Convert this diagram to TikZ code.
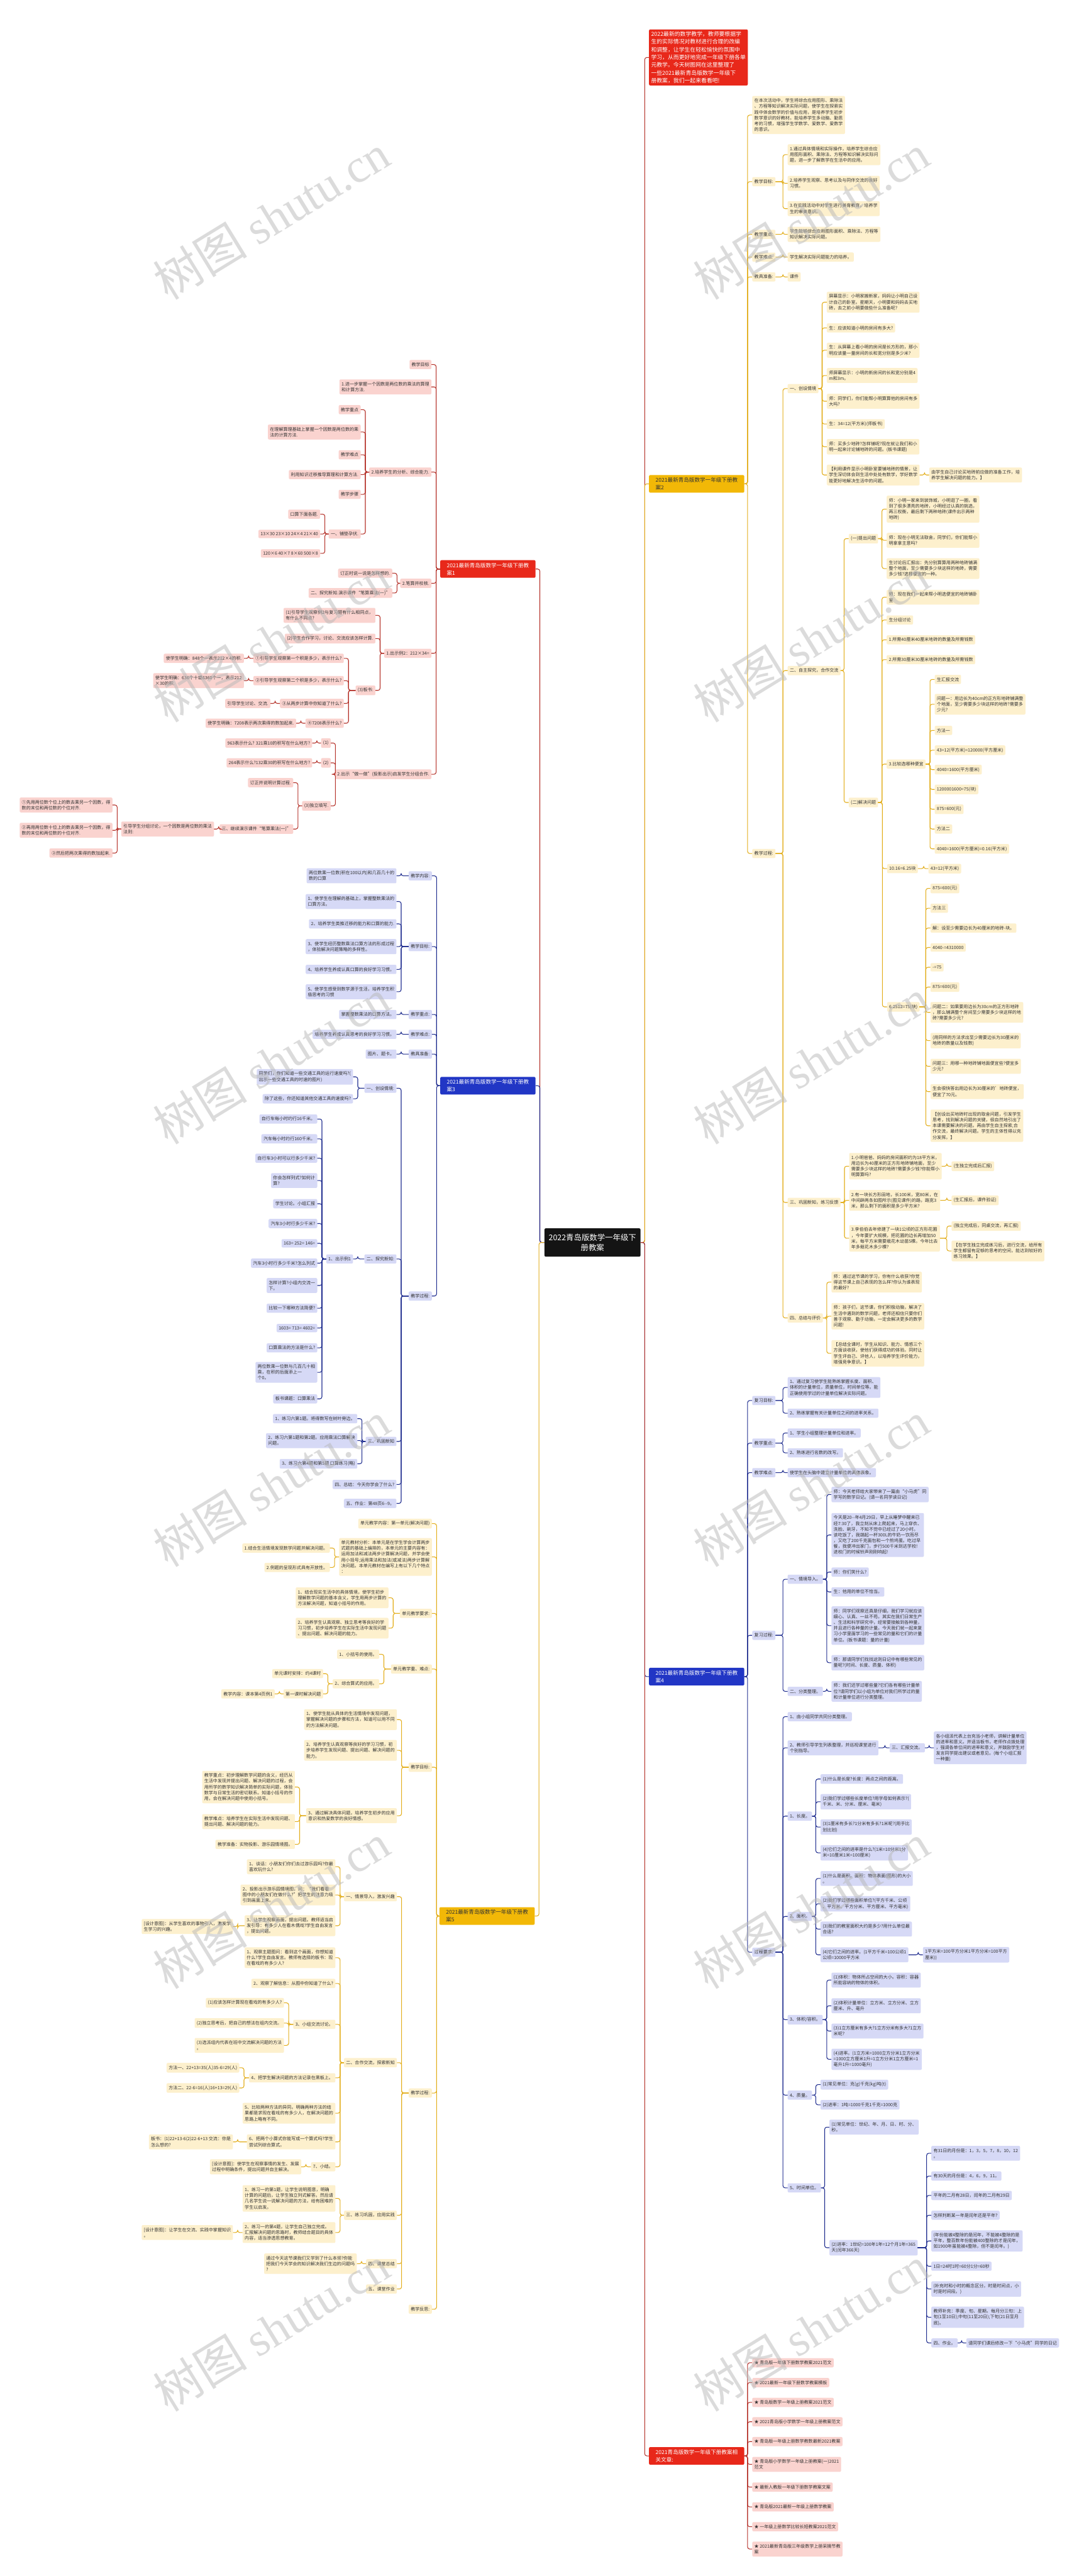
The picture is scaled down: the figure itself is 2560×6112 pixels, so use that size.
\documentclass[tikz,border=0pt]{standalone}
\usepackage{fontspec}
\setmainfont{Noto Sans CJK SC}
\newfontfamily\wmlat{Liberation Serif}
\newfontfamily\wmcjk{Noto Sans CJK SC}
\usetikzlibrary{calc}
\definecolor{ysub}{HTML}{FDF0CD}
\definecolor{yline}{HTML}{E3AE1B}
\definecolor{ylabc}{HTML}{F2B807}
\definecolor{rsub}{HTML}{FAD3CF}
\definecolor{rline}{HTML}{B5322A}
\definecolor{rlabc}{HTML}{E8281A}
\definecolor{bsub}{HTML}{D6D9F6}
\definecolor{bline}{HTML}{1F2D8F}
\definecolor{blabc}{HTML}{2136C5}
\definecolor{cenc}{HTML}{141414}
\definecolor{txt}{HTML}{333333}
\definecolor{wmc}{HTML}{B8B8B8}
\tikzset{
  sub/.style={rounded corners=3pt, inner xsep=5pt, inner ysep=6pt, align=left, text=txt, font=\fontsize{10.5}{13.7}\selectfont},
  ys/.style={sub, fill=ysub},
  rs/.style={sub, fill=rsub},
  bs/.style={sub, fill=bsub},
  lab/.style={rounded corners=3pt, inner xsep=5pt, inner ysep=6pt, align=left, font=\fontsize{12.8}{17.9}\selectfont, minimum width=226pt},
  ylab/.style={lab, fill=ylabc, text=txt},
  rlab/.style={lab, fill=rlabc, text=white},
  blab/.style={lab, fill=blabc, text=white},
  cen/.style={rounded corners=3pt, fill=cenc, text=white, align=center, font=\fontsize{18.5}{25}\selectfont, minimum width=228pt, minimum height=67pt},
  intro/.style={rounded corners=3pt, fill=rlabc, text=white, align=left, inner sep=5pt, font=\fontsize{13.2}{18.4}\selectfont},
  yk/.style={draw=yline, line width=1.6pt, rounded corners=5pt},
  rk/.style={draw=rline, line width=1.6pt, rounded corners=5pt},
  bk/.style={draw=bline, line width=1.6pt, rounded corners=5pt},
  wm/.style={rotate=31.5, text=wmc, opacity=0.5, font=\fontsize{112}{120}\selectfont}
}
\newcommand\NR[5]{\node[#1,anchor=west] (#2) at (#3,#4) {#5};}
\newcommand\NL[5]{\node[#1,anchor=east] (#2) at (#3,#4) {#5};}
\newcommand\CRs[3]{\foreach \cc in {#3}{\draw[#1] (#2.east) -| ([xshift=-11pt]\cc.west) -- (\cc.west);}}
\newcommand\CLs[3]{\foreach \cc in {#3}{\draw[#1] (#2.west) -| ([xshift=11pt]\cc.east) -- (\cc.east);}}
\begin{document}
\begin{tikzpicture}[x=1pt,y=-1pt]
\fill[white] (0,0) rectangle (2560,6112);
\useasboundingbox (0,0) rectangle (2560,6112);

% ---------- central and branch labels
\node[cen] (C) at (1406,2948) {2022青岛版数学一年级下\\册教案};
\node[intro,anchor=south west] (I0) at (1540,203) {2022最新的数学教学，教师要根据学\\生的实际情况对教材进行合理的改编\\和调整，让学生在轻松愉快的氛围中\\学习，从而更好地完成一年级下册各单\\元教学。今天树图网在这里整理了\\一些2021最新青岛版数学一年级下\\册教案，我们一起来看看吧!};
\NR{ylab}{L2}{1540}{1148}{2021最新青岛版数学一年级下册教\\案2}
\NR{blab}{L4}{1540}{3978}{2021最新青岛版数学一年级下册教\\案4}
\NR{rlab}{LR}{1540}{5827}{2021青岛版数学一年级下册教案相\\关文章:}
\NL{rlab}{L1}{1271}{1350}{2021最新青岛版数学一年级下册教\\案1}
\NL{blab}{L3}{1271}{2576}{2021最新青岛版数学一年级下册教\\案3}
\NL{ylab}{L5}{1269}{4546}{2021最新青岛版数学一年级下册教\\案5}

\draw[rk] (C.east) -| ([xshift=-10pt]I0.west) -- (I0.west);
\draw[yk] (C.east) -| ([xshift=-10pt]L2.west) -- (L2.west);
\draw[bk] (C.east) -| ([xshift=-10pt]L4.west) -- (L4.west);
\draw[rk] (C.east) -| ([xshift=-10pt]LR.west) -- (LR.west);
\draw[rk] (C.west) -| ([xshift=10pt]L1.east) -- (L1.east);
\draw[bk] (C.west) -| ([xshift=10pt]L3.east) -- (L3.east);
\draw[yk] (C.west) -| ([xshift=10pt]L5.east) -- (L5.east);

% ---------- 教案2 (yellow, right)
\NR{ys}{a1}{1785}{273}{在本次活动中，学生将综合应用图形、乘除法\\、方程等知识解决实际问题，使学生在探索实\\践中体会数学的价值与应用，是培养学生初步\\数学意识的好教材。能培养学生多动脑、勤思\\考的习惯，增强学生学数学、爱数学、爱数学\\的意识。}
\NR{ys}{a2}{1785}{431}{教学目标:}
\NR{ys}{a21}{1869}{367}{1.通过具体情境和实际操作，培养学生综合应\\用图形面积、乘除法、方程等知识解决实际问\\题，进一步了解数学在生活中的应用。}
\NR{ys}{a22}{1869}{435}{2.培养学生观察、思考以及与同伴交流的良好\\习惯。}
\NR{ys}{a23}{1869}{495}{3.在实践活动中对学生进行美育教育，培养学\\生的审美意识。}
\NR{ys}{a3}{1785}{556}{教学重点:}
\NR{ys}{a31}{1869}{556}{学生能够综合应用图形面积、乘除法、方程等\\知识解决实际问题。}
\NR{ys}{a4}{1785}{610}{教学难点:}
\NR{ys}{a41}{1869}{610}{学生解决实际问题能力的培养。}
\NR{ys}{a5}{1785}{657}{教具准备:}
\NR{ys}{a51}{1869}{657}{课件}
\NR{ys}{a6}{1785}{2025}{教学过程:}
\NR{ys}{b1}{1869}{922}{一、创设情境}
\NR{ys}{b11}{1962}{717}{屏幕显示：小明家搬新家，妈妈让小明自己设\\计自己的卧室。星期天，小明要和妈妈去买地\\砖，去之前小明要做些什么准备呢?}
\NR{ys}{b12}{1962}{778}{生：应该知道小明的房间有多大?}
\NR{ys}{b13}{1962}{831}{生：从屏幕上看小明的房间是长方形的，那小\\明应该量一量房间的长和宽分别是多少米?}
\NR{ys}{b14}{1962}{891}{师屏幕显示：小明的新房间的长和宽分别是4\\m和3m。}
\NR{ys}{b15}{1962}{952}{师：同学们，你们能帮小明算算他的房间有多\\大吗?}
\NR{ys}{b16}{1962}{1006}{生：34=12(平方米)(师板书)}
\NR{ys}{b17}{1962}{1060}{师：买多少地砖?怎样铺呢?现在就让我们和小\\明一起来讨论铺地砖的问题。(板书课题)}
\NR{ys}{b18}{1962}{1127}{【利用课件显示小明卧室要铺地砖的情景，让\\学生深切体会到生活中处处有数学，学好数学\\能更好地解决生活中的问题。}
\NR{ys}{b181}{2205}{1127}{由学生自己讨论买地砖前应做的准备工作，培\\养学生解决问题的能力。】}
\NR{ys}{b2}{1869}{1591}{二、自主探究，合作交流}
\NR{ys}{c1}{2014}{1278}{(一)提出问题}
\NR{ys}{c11}{2104}{1208}{师：小明一家来到装饰城，小明逛了一圈，看\\到了很多漂亮的地砖，小明经过认真的挑选，\\再三权衡，最后剩下两种地砖(课件出示两种\\地砖)}
\NR{ys}{c12}{2104}{1282}{师：现在小明无法取舍，同学们，你们能帮小\\明拿拿主意吗?}
\NR{ys}{c13}{2104}{1349}{生讨论后汇报出：先分别算算用两种地砖铺满\\整个地面，至少需要多少块这样的地砖，需要\\多少钱?选择便宜的一种。}
\NR{ys}{c2}{2014}{1904}{(二)解决问题}
\NR{ys}{c21}{2104}{1417}{师：现在我们一起来帮小明选便宜的地砖铺卧\\室}
\NR{ys}{c22}{2104}{1471}{生分组讨论}
\NR{ys}{c23}{2104}{1518}{1.所需40厘米40厘米地砖的数量及所需钱数}
\NR{ys}{c24}{2104}{1565}{2.所需30厘米30厘米地砖的数量及所需钱数}
\NR{ys}{c25}{2104}{1813}{3.比较选哪种便宜}
\NR{ys}{d1}{2218}{1612}{生汇报交流}
\NR{ys}{d2}{2218}{1671}{问题一：用边长为40cm的正方形地砖铺满整\\个地面，至少需要多少块这样的地砖?需要多\\少元?}
\NR{ys}{d3}{2218}{1733}{方法一}
\NR{ys}{d4}{2218}{1780}{43=12(平方米)=120000(平方厘米)}
\NR{ys}{d5}{2218}{1826}{4040=1600(平方厘米)}
\NR{ys}{d6}{2218}{1873}{1200001600=75(块)}
\NR{ys}{d7}{2218}{1920}{875=600(元)}
\NR{ys}{d8}{2218}{1967}{方法二}
\NR{ys}{d9}{2218}{2014}{4040=1600(平方厘米)=0.16(平方米)}
\NR{ys}{c26}{2105}{2061}{10.16=6.25块}
\NR{ys}{c261}{2203}{2061}{43=12(平方米)}
\NR{ys}{c27}{2105}{2389}{6.2512=75(块)}
\NR{ys}{e1}{2208}{2108}{875=600(元)}
\NR{ys}{e2}{2208}{2155}{方法三}
\NR{ys}{e3}{2208}{2202}{解：设至少需要边长为40厘米的地砖-块。}
\NR{ys}{e4}{2208}{2248}{4040-=4310000}
\NR{ys}{e5}{2208}{2295}{-=75}
\NR{ys}{e6}{2208}{2342}{875=600(元)}
\NR{ys}{e7}{2208}{2402}{问题二：如果要用边长为30cm的正方形地砖\\，那么铺满整个房间至少需要多少块这样的地\\砖?需要多少元?}
\NR{ys}{e8}{2208}{2469}{(用同样的方法求出至少需要边长为30厘米的\\地砖的数量以及钱数)}
\NR{ys}{e9}{2208}{2530}{问题三：用哪一种地砖铺地面便宜些?便宜多\\少元?}
\NR{ys}{e10}{2208}{2590}{生会很快答出用边长为30厘米的'地砖便宜，\\便宜了70元。}
\NR{ys}{e11}{2208}{2671}{【创设出买地砖时出现的取舍问题，引发学生\\思考，找到解决问题的关键，很自然地引出了\\本课需要解决的问题。再由学生自主探索,合\\作交流，最终解决问题。学生的主体性得以充\\分发挥。】}
\NR{ys}{b3}{1869}{2853}{三、巩固新知，练习反馈}
\NR{ys}{f1}{2015}{2767}{1.小明爸爸、妈妈的房间面积约为18平方米，\\用边长为40厘米的正方形地砖铺地面，至少\\需要多少块这样的地砖?需要多少钱?你能帮小\\明算算吗?}
\NR{ys}{f11}{2258}{2767}{(生独立完成后汇报)}
\NR{ys}{f2}{2015}{2848}{2.有一块长方形田地，长100米，宽80米，在\\中间辟两条如图所示(图见课件)的路，路宽3\\米，那么剩下的面积是多少平方米?}
\NR{ys}{f21}{2258}{2848}{(生汇报后，课件验证)}
\NR{ys}{f3}{2015}{2938}{3.李伯伯去年修建了一块1公顷的正方形花圃\\，今年要扩大规模，把花圃的边长再增加50\\米，每平方米需要栽花木幼苗5棵。今年比去\\年多栽花木多少棵?}
\NR{ys}{f31}{2258}{2909}{(独立完成后，同桌交流，再汇报)}
\NR{ys}{f32}{2258}{2968}{【在学生独立完成练习后，进行交流，给所有\\学生都留有足够的思考的空间，能达到较好的\\练习效果。】}
\NR{ys}{b4}{1869}{3127}{四、总结与评价}
\NR{ys}{g1}{1973}{3042}{师：通过这节课的学习，你有什么收获?你觉\\得这节课上自己表现的怎么样?你认为谁表现\\的最好?}
\NR{ys}{g2}{1973}{3123}{师：孩子们，这节课，你们积极动脑，解决了\\生活中遇到的数学问题，老师还相信只要你们\\善于观察、勤于动脑，一定会解决更多的数学\\问题!}
\NR{ys}{g3}{1973}{3211}{【总结全课时，学生从知识、能力、情感三个\\方面谈收获，使他们获得成功的体验。同时让\\学生评自己、评他人，以培养学生评价能力，\\增强竞争意识。】}

\CRs{yk}{L2}{a1,a2,a3,a4,a5,a6}
\CRs{yk}{a2}{a21,a22,a23}
\CRs{yk}{a3}{a31}
\CRs{yk}{a4}{a41}
\CRs{yk}{a5}{a51}
\CRs{yk}{a6}{b1,b2,b3,b4}
\CRs{yk}{b1}{b11,b12,b13,b14,b15,b16,b17,b18}
\CRs{yk}{b18}{b181}
\CRs{yk}{b2}{c1,c2}
\CRs{yk}{c1}{c11,c12,c13}
\CRs{yk}{c2}{c21,c22,c23,c24,c25,c26,c27}
\CRs{yk}{c25}{d1,d2,d3,d4,d5,d6,d7,d8,d9}
\CRs{yk}{c26}{c261}
\CRs{yk}{c27}{e1,e2,e3,e4,e5,e6,e7,e8,e9,e10,e11}
\CRs{yk}{b3}{f1,f2,f3}
\CRs{yk}{f1}{f11}
\CRs{yk}{f2}{f21}
\CRs{yk}{f3}{f31,f32}
\CRs{yk}{b4}{g1,g2,g3}

% ---------- 教案4 (blue, right)
\NR{bs}{h1}{1785}{3323}{复习目标:}
\NR{bs}{h11}{1869}{3292}{1、通过复习使学生能熟练掌握长度、面积、\\体积的计量单位，质量单位，时间单位等。能\\正确使用学过的计量单位解决实际问题。}
\NR{bs}{h12}{1869}{3353}{2、熟练掌握有关计量单位之间的进率关系。}
\NR{bs}{h2}{1785}{3424}{教学重点:}
\NR{bs}{h21}{1869}{3400}{1、学生小组整理计量单位和进率。}
\NR{bs}{h22}{1869}{3447}{2、熟练进行名数的改写。}
\NR{bs}{h3}{1785}{3494}{教学难点:}
\NR{bs}{h31}{1869}{3494}{使学生在头脑中建立计量单位的具体表象。}
\NR{bs}{h4}{1785}{3880}{复习过程:}
\NR{bs}{i1}{1869}{3747}{一、情境导入。}
\NR{bs}{i11}{1973}{3546}{师：今天老师给大家带来了一篇由“小马虎”同\\学写的数学日记。(请一名同学读日记)}
\NR{bs}{i12}{1973}{3642}{今天是20-{}-年4月29日，早上从睡梦中醒来已\\经7:30了，我立刻从床上爬起来，马上穿衣、\\洗脸、刷牙，不知不觉中已经过了20小时。\\该吃饭了，我端起一杯300L的牛奶一饮而尽\\，又吃了200千克面包和一个煎鸡蛋。吃过早\\餐，我便冲出家门，步行500千米到达学校!\\进校门的时候铃声刚刚响起!}
\NR{bs}{i13}{1973}{3730}{师：你们笑什么?}
\NR{bs}{i14}{1973}{3777}{生：他用的单位不恰当。}
\NR{bs}{i15}{1973}{3857}{师：同学们观察还真是仔细，我们学习就应该\\细心、认真、一丝不苟。其实在我们日常生产\\、生活和科学研究中，经常要接触到各种量，\\并且进行各种量的计量。今天我们就一起来复\\习小学里面学习的一些常见的量和它们的计量\\单位。(板书课题：量的计量)}
\NR{bs}{i16}{1973}{3945}{师：那请同学们找找这则日记中有哪些常见的\\量呢?(时间、长度、质量、体积)}
\NR{bs}{i2}{1869}{4013}{二、分类整理。}
\NR{bs}{i21}{1973}{4013}{师：我们还学过哪些量?它们各有哪些计量单\\位?请同学们以小组为单位对我们所学过的量\\和计量单位进行分类整理。}
\NR{bs}{h5}{1785}{4632}{过程要求:}
\NR{bs}{j1}{1869}{4073}{1、由小组同学共同分类整理。}
\NR{bs}{j2}{1869}{4147}{2、教师引导学生列表整理，并巡视课堂进行\\个别指导。}
\NR{bs}{j21}{2111}{4147}{三、汇报交流。}
\NR{bs}{j211}{2216}{4147}{各小组派代表上台充当小老师，讲解计量单位\\的进率和意义。并适当板书，老师作点拨处理\\，强调各单位间的进率和意义，并鼓励学生对\\发言同学提出建议或者意见。(每个小组汇报\\一种量)}
\NR{bs}{j3}{1869}{4309}{1、长度。}
\NR{bs}{j31}{1947}{4221}{(1)什么是长度?长度：两点之间的距离。}
\NR{bs}{j32}{1947}{4275}{(2)我们学过哪些长度单位?用字母如何表示?(\\千米、米、分米、厘米、毫米)}
\NR{bs}{j33}{1947}{4335}{(3)1厘米有多长?1分米有多长?1米呢?(用手比\\划比划)}
\NR{bs}{j34}{1947}{4396}{(4)它们之间的进率是什么?(1米=10分米1分\\米=10厘米1米=100厘米)}
\NR{bs}{j4}{1869}{4547}{2、面积。}
\NR{bs}{j41}{1947}{4457}{(1)什么是面积。面积：物体表面(图形)的大小\\。}
\NR{bs}{j42}{1947}{4517}{(2)我们学过哪些面积单位?(平方千米、公顷\\、平方米、平方分米、平方厘米、平方毫米)}
\NR{bs}{j43}{1947}{4577}{(3)我们的教室面积大约是多少?用什么单位最\\合适?}
\NR{bs}{j44}{1947}{4638}{(4)它们之间的进率。(1平方千米=100公顷1\\公顷=10000平方米}
\NR{bs}{j441}{2190}{4638}{1平方米=100平方分米1平方分米=100平方\\厘米))}
\NR{bs}{j5}{1869}{4792}{3、体积/容积。}
\NR{bs}{j51}{1973}{4698}{(1)体积：物体所占空间的大小。容积：容器\\所能容纳的物体的体积。}
\NR{bs}{j52}{1973}{4759}{(2)体积计量单位：立方米、立方分米、立方\\厘米、升、毫升}
\NR{bs}{j53}{1973}{4819}{(3)1立方厘米有多大?1立方分米有多大?1立方\\米呢?}
\NR{bs}{j54}{1973}{4886}{(4)进率。(1立方米=1000立方分米1立方分米\\=1000立方厘米1升=1立方分米1立方厘米=1\\毫升1升=1000毫升)}
\NR{bs}{j6}{1869}{4971}{4、质量。}
\NR{bs}{j61}{1947}{4946}{(1)常见单位：克(g)千克(kg)吨(t)}
\NR{bs}{j62}{1947}{4994}{(2)进率：1吨=1000千克1千克=1000克}
\NR{bs}{j7}{1869}{5191}{5、时间单位。}
\NR{bs}{j71}{1968}{5047}{(1)常见单位：世纪、年、月、日、时、分、\\秒。}
\NR{bs}{j72}{1968}{5333}{(2)进率：1世纪=100年1年=12个月1年=365\\天(闰年366天)}
\NR{bs}{k1}{2210}{5109}{有31日的月份是：1，3，5，7，8，10，12\\。}
\NR{bs}{k2}{2210}{5163}{有30天的月份是：4，6，9，11。}
\NR{bs}{k3}{2210}{5209}{平年的二月有28日，闰年的二月有29日}
\NR{bs}{k4}{2210}{5256}{怎样判断某一年是闰年还是平年?}
\NR{bs}{k5}{2210}{5317}{(年份能被4整除的是闰年，不能被4整除的是\\平年，整百数年份能被400整除的才是闰年，\\如1900年虽能被4整除，但不是闰年。)}
\NR{bs}{k6}{2210}{5377}{1日=24时1时=60分1分=60秒}
\NR{bs}{k7}{2210}{5431}{(补充时和小时的概念区分。时是时间点，小\\时是时间段。)}
\NR{bs}{k8}{2210}{5498}{教师补充：季度、旬、星期。每月分三旬：上\\旬(1至10日);中旬(11至20日);下旬(21日至月\\底)。}
\NR{bs}{k9}{2210}{5559}{四、作业。}
\NR{bs}{k91}{2293}{5559}{请同学们课后修改一下“小马虎”同学的日记}

\CRs{bk}{L4}{h1,h2,h3,h4,h5}
\CRs{bk}{h1}{h11,h12}
\CRs{bk}{h2}{h21,h22}
\CRs{bk}{h3}{h31}
\CRs{bk}{h4}{i1,i2}
\CRs{bk}{i1}{i11,i12,i13,i14,i15,i16}
\CRs{bk}{i2}{i21}
\CRs{bk}{h5}{j1,j2,j3,j4,j5,j6,j7}
\CRs{bk}{j2}{j21}
\CRs{bk}{j21}{j211}
\CRs{bk}{j3}{j31,j32,j33,j34}
\CRs{bk}{j4}{j41,j42,j43,j44}
\CRs{bk}{j44}{j441}
\CRs{bk}{j5}{j51,j52,j53,j54}
\CRs{bk}{j6}{j61,j62}
\CRs{bk}{j7}{j71,j72}
\CRs{bk}{j72}{k1,k2,k3,k4,k5,k6,k7,k8,k9}
\CRs{bk}{k9}{k91}

% ---------- related articles (red, right)
\NR{rs}{z1}{1785}{5606}{★ 青岛版一年级下册数学教案2021范文}
\NR{rs}{z2}{1785}{5653}{★ 2021最新一年级下册数学教案模板}
\NR{rs}{z3}{1785}{5700}{★ 青岛版数学一年级上册教案2021范文}
\NR{rs}{z4}{1785}{5746}{★ 2021青岛版小学数学一年级上册教案范文}
\NR{rs}{z5}{1785}{5793}{★ 青岛版一年级上册数学教数最新2021教案}
\NR{rs}{z6}{1785}{5847}{★ 青岛版小学数学一年级上册教案(一)2021\\范文}
\NR{rs}{z7}{1785}{5901}{★ 最新人教版一年级下册数学教案文案}
\NR{rs}{z8}{1785}{5948}{★ 青岛版2021最新一年级上册数学教案}
\NR{rs}{z9}{1785}{5995}{★ 一年级上册数学比较长短教案2021范文}
\NR{rs}{z10}{1785}{6048}{★ 2021最新青岛版三年级数学上册采摘节教\\案}
\CRs{rk}{LR}{z1,z2,z3,z4,z5,z6,z7,z8,z9,z10}

% ---------- 教案1 (red, left)
\NL{rs}{m1}{1024}{865}{教学目标}
\NL{rs}{m2}{1024}{918}{1.进一步掌握一个因数是两位数的乘法的算理\\和计算方法.}
\NL{rs}{m3}{1024}{1120}{2.培养学生的分析、综合能力.}
\NL{rs}{m31}{856}{972}{教学重点}
\NL{rs}{m32}{856}{1025}{在理解算理基础上掌握一个因数是两位数的乘\\法的计算方法.}
\NL{rs}{m33}{856}{1079}{教学难点}
\NL{rs}{m34}{856}{1126}{利用知识迁移推导算理和计算方法.}
\NL{rs}{m35}{856}{1173}{教学步骤}
\NL{rs}{m36}{856}{1267}{一、铺垫孕伏.}
\NL{rs}{m361}{760}{1220}{口算下面各题.}
\NL{rs}{m362}{760}{1267}{13×30 23×10 24×4 21×40}
\NL{rs}{m363}{760}{1313}{120×6 40×7 8×60 500×8}
\NL{rs}{m4}{1024}{1384}{2.笔算并校核.}
\NL{rs}{m41}{931}{1360}{订正时说一说是怎样想的.}
\NL{rs}{m42}{931}{1407}{二、探究新知.演示课件“笔算乘法(一)”}
\NL{rs}{m5}{1024}{1550}{1.出示例2：212×34=}
\NL{rs}{m51}{891}{1460}{(1)引导学生观察例2与复习题有什么相同点，\\有什么不同点?}
\NL{rs}{m52}{891}{1515}{(2)学生合作学习，讨论、交流应该怎样计算.}
\NL{rs}{m53}{891}{1638}{(3)板书:}
\NL{rs}{n1}{816}{1562}{①引导学生观察第一个积是多少，表示什么?}
\NL{rs}{n11}{579}{1562}{使学生明确：848个一表示212×4的积.}
\NL{rs}{n2}{816}{1615}{②引导学生观察第二个积是多少，表示什么?}
\NL{rs}{n21}{579}{1615}{使学生明确：636个十或6360个一，表示212\\×30的积.}
\NL{rs}{n3}{816}{1669}{③从两步计算中你知道了什么?}
\NL{rs}{n31}{642}{1669}{引导学生讨论、交流.}
\NL{rs}{n4}{816}{1716}{④7208表示什么?}
\NL{rs}{n41}{703}{1716}{使学生明确：7208表示两次乘得的数加起来.}
\NL{rs}{m6}{1024}{1837}{2.出示“做一做”(投影出示)启发学生分组合作.}
\NL{rs}{o1}{785}{1763}{(1)}
\NL{rs}{o11}{741}{1763}{963表示什么? 321乘10的积写在什么地方?}
\NL{rs}{o2}{785}{1810}{(2)}
\NL{rs}{o21}{741}{1810}{264表示什么?132乘30的积写在什么地方?}
\NL{rs}{o3}{785}{1912}{(3)独立填写.}
\NL{rs}{o31}{696}{1857}{订正并说明计算过程.}
\NL{rs}{o32}{696}{1967}{三、继续演示课件“笔算乘法(一)”}
\NL{rs}{o321}{508}{1967}{引导学生分组讨论，一个因数是两位数的乘法\\法则:}
\NL{rs}{p1}{267}{1910}{①先用两位数个位上的数去乘另一个因数，得\\数的末位和两位数的个位对齐.}
\NL{rs}{p2}{267}{1970}{②再用两位数十位上的数去乘另一个因数，得\\数的末位和两位数的十位对齐.}
\NL{rs}{p3}{267}{2024}{③然后把两次乘得的数加起来.}

\CLs{rk}{L1}{m1,m2,m3,m4,m5,m6}
\CLs{rk}{m3}{m31,m32,m33,m34,m35,m36}
\CLs{rk}{m36}{m361,m362,m363}
\CLs{rk}{m4}{m41,m42}
\CLs{rk}{m5}{m51,m52,m53}
\CLs{rk}{m53}{n1,n2,n3,n4}
\CLs{rk}{n1}{n11}
\CLs{rk}{n2}{n21}
\CLs{rk}{n3}{n31}
\CLs{rk}{n4}{n41}
\CLs{rk}{m6}{o1,o2,o3}
\CLs{rk}{o1}{o11}
\CLs{rk}{o2}{o21}
\CLs{rk}{o3}{o31,o32}
\CLs{rk}{o32}{o321}
\CLs{rk}{o321}{p1,p2,p3}

% ---------- 教案3 (blue, left)
\NL{bs}{q1}{1025}{2078}{教学内容:}
\NL{bs}{q11}{941}{2078}{两位数乘一位数(积在100以内)和几百几十的\\数的口算}
\NL{bs}{q2}{1025}{2246}{教学目标:}
\NL{bs}{q21}{941}{2139}{1、使学生在理解的基础上，掌握整数乘法的\\口算方法。}
\NL{bs}{q22}{941}{2192}{2、培养学生类推迁移的能力和口算的能力.}
\NL{bs}{q23}{941}{2246}{3、使学生经历整数乘法口算方法的形成过程\\，体验解决问题策略的多样性。}
\NL{bs}{q24}{941}{2300}{4、培养学生养成认真口算的良好学习习惯。}
\NL{bs}{q25}{941}{2353}{5、使学生感受到数学源于生活，培养学生积\\极思考的习惯}
\NL{bs}{q3}{1025}{2407}{教学重点:}
\NL{bs}{q31}{941}{2407}{掌握整数乘法的口算方法。}
\NL{bs}{q4}{1025}{2454}{教学难点:}
\NL{bs}{q41}{941}{2454}{培养学生养成认真思考的良好学习习惯。}
\NL{bs}{q5}{1025}{2501}{教具准备:}
\NL{bs}{q51}{941}{2501}{图片、题卡。}
\NL{bs}{q6}{1025}{3075}{教学过程:}
\NL{bs}{r1}{941}{2582}{一、创设情境:}
\NL{bs}{r11}{838}{2555}{同学们，你们知道一些交通工具的运行速度吗?(\\出示一些交通工具的时速的图片)}
\NL{bs}{r12}{838}{2607}{除了这些，你还知道其他交通工具的速度吗?}
\NL{bs}{r2}{941}{2987}{二、探究新知:}
\NL{bs}{r21}{838}{2987}{1、出示例1}
\NL{bs}{s1}{753}{2655}{自行车每小时约行16千米。}
\NL{bs}{s2}{753}{2702}{汽车每小时约行160千米。}
\NL{bs}{s3}{753}{2748}{自行车3小时可以行多少千米?}
\NL{bs}{s4}{753}{2801}{你会怎样列式?如何计\\算?}
\NL{bs}{s5}{753}{2856}{学生讨论。小组汇报}
\NL{bs}{s6}{753}{2903}{汽车3小时行多少千米?}
\NL{bs}{s7}{753}{2950}{163= 252= 146=}
\NL{bs}{s8}{753}{2997}{汽车3小时行多少千米?怎么列式}
\NL{bs}{s9}{753}{3050}{怎样计算?小组内交流一\\下。}
\NL{bs}{s10}{753}{3104}{比较一下哪种方法简便?}
\NL{bs}{s11}{753}{3151}{1603= 713= 4602=}
\NL{bs}{s12}{753}{3198}{口算乘法的方法是什么?}
\NL{bs}{s13}{753}{3256}{两位数乘一位数与几百几十相\\乘，在积的后面添上一\\个0。}
\NL{bs}{s14}{753}{3319}{板书课题：口算乘法}
\NL{bs}{r3}{941}{3420}{三、巩固新知}
\NL{bs}{r31}{848}{3366}{1、练习六第1题。将得数写在树叶旁边。}
\NL{bs}{r32}{848}{3418}{2、练习六第1题和第2题。应用乘法口算解决\\问题。}
\NL{bs}{r33}{848}{3473}{3、练习六第4题和第5题 口算练习(略)}
\NL{bs}{r4}{941}{3522}{四、总结：今天你学会了什么?}
\NL{bs}{r5}{941}{3567}{五、作业：第48页6-{}-9。}

\CLs{bk}{L3}{q1,q2,q3,q4,q5,q6}
\CLs{bk}{q1}{q11}
\CLs{bk}{q2}{q21,q22,q23,q24,q25}
\CLs{bk}{q3}{q31}
\CLs{bk}{q4}{q41}
\CLs{bk}{q5}{q51}
\CLs{bk}{q6}{r1,r2,r3,r4,r5}
\CLs{bk}{r1}{r11,r12}
\CLs{bk}{r2}{r21}
\CLs{bk}{r21}{s1,s2,s3,s4,s5,s6,s7,s8,s9,s10,s11,s12,s13,s14}
\CLs{bk}{r3}{r31,r32,r33}

% ---------- 教案5 (yellow, left)
\NL{ys}{t1}{1025}{3615}{单元教学内容：第一单元(解决问题)}
\NL{ys}{t2}{1025}{3694}{单元教材分析：本单元是在学生学会计算两步\\式题的基础上编排的，本单元的主要内容有：\\运用加法和减法两步计算解决问题，并学会使\\用小括号;运用乘法和加法(或减法)两步计算解\\决问题。本单元教材在编写上有以下几个特点\\：}
\NL{ys}{t21}{783}{3673}{1.结合生活情境发现数学问题并解决问题。}
\NL{ys}{t22}{783}{3719}{2.例题的呈现形式具有开放性。}
\NL{ys}{t3}{1025}{3828}{单元教学要求:}
\NL{ys}{t31}{922}{3791}{1、结合现实生活中的具体情境，使学生初步\\理解数学问题的基本含义，学生用两步计算的\\方法解决问题，知道小括号的作用。}
\NL{ys}{t32}{922}{3863}{2、培养学生认真观察、独立思考等良好的学\\习习惯，初步培养学生在实际生活中发现问题\\、提出问题、解决问题的能力。}
\NL{ys}{t4}{1025}{3960}{单元教学重、难点:}
\NL{ys}{t41}{900}{3925}{1、小括号的使用。}
\NL{ys}{t42}{900}{3995}{2、综合算式的应用。}
\NL{ys}{t421}{767}{3971}{单元课时安排：约4课时}
\NL{ys}{t422}{767}{4019}{第一课时解决问题}
\NL{ys}{t4221}{652}{4019}{教学内容：课本第4页例1}
\NL{ys}{t5}{1025}{4193}{教学目标:}
\NL{ys}{t51}{942}{4080}{1、使学生能从具体的生活情境中发现问题，\\掌握解决问题的步骤和方法，知道可以用不同\\的方法解决问题。}
\NL{ys}{t52}{942}{4153}{2、培养学生认真观察等良好的学习习惯，初\\步培养学生发现问题、提出问题、解决问题的\\能力。}
\NL{ys}{t53}{942}{4308}{3、通过解决具体问题，培养学生初步的应用\\意识和热爱数学的良好情感。}
\NL{ys}{t531}{700}{4240}{教学重点：初步理解数学问题的含义，经历从\\生活中发现并提出问题、解决问题的过程，会\\用所学的数学知识解决简单的实际问题，体验\\数学与日常生活的密切联系。知道小括号的作\\用，会在解决问题中使用小括号。}
\NL{ys}{t532}{700}{4322}{教学难点：培养学生在实际生活中发现问题、\\提出问题、解决问题的能力。}
\NL{ys}{t533}{700}{4376}{教学准备：实物投影、游乐园情境图。}
\NL{ys}{t6}{1025}{4966}{教学过程:}
\NL{ys}{u1}{942}{4500}{一、情景导入，激发兴趣}
\NL{ys}{u11}{796}{4429}{1、谈话：小朋友们你们去过游乐园吗?你最\\喜欢玩什么?}
\NL{ys}{u12}{796}{4496}{2、投影出示游乐园情境图，问：“我们看看\\图中的小朋友们在做什么?”把学生的注意力吸\\引到画面上来。}
\NL{ys}{u13}{796}{4569}{3、让学生观察画面，提出问题。教师适当启\\发引导：有多少人在看木偶戏?学生自由发言\\，提出问题。}
\NL{ys}{u131}{553}{4571}{[设计意图]：从学生喜欢的事物引入，激发学\\生学习的兴趣。}
\NL{ys}{u2}{942}{4894}{二、合作交流，探索新知}
\NL{ys}{v1}{796}{4645}{1、观察主题图问：看到这个画面，你想知道\\什么?学生自由发言。教师有选择的板书：现\\在看戏的有多少人?}
\NL{ys}{v2}{796}{4706}{2、观察了解信息：从图中你知道了什么?}
\NL{ys}{v3}{796}{4803}{3、小组交流讨论。}
\NL{ys}{v31}{674}{4752}{(1)应该怎样计算现在看戏的有多少人?}
\NL{ys}{v32}{674}{4800}{(2)独立思考后，把自己的想法在组内交流。}
\NL{ys}{v33}{674}{4853}{(3)选派组内代表在班中交流解决问题的方法\\。}
\NL{ys}{v4}{796}{4930}{4、把学生解决问题的方法记录在黑板上。}
\NL{ys}{v41}{568}{4906}{方法一、22+13=35(人)35-6=29(人)}
\NL{ys}{v42}{568}{4954}{方法二、22-6=16(人)16+13=29(人)}
\NL{ys}{v5}{796}{5014}{5、比较两种方法的异同。明确两种方法的结\\果都是求现在看戏的有多少人，在解决问题的\\思路上略有不同。}
\NL{ys}{v6}{796}{5082}{6、把两个小算式你能写成一个算式吗?学生\\尝试列综合算式。}
\NL{ys}{v61}{553}{5082}{板书：(1)22+13-6(2)22-6+13 交流：你是\\怎么想的?}
\NL{ys}{v7}{796}{5141}{7、小结。}
\NL{ys}{v71}{715}{5141}{[设计意图]：使学生在观察事情的发生、发展\\过程中明确条件，提出问题并自主解决。}
\NL{ys}{u3}{942}{5256}{三、练习巩固，应用实践}
\NL{ys}{w1}{796}{5216}{1、练习一的第1题，让学生说明图意，明确\\计算的问题后，让学生独立列式解答。然后请\\几名学生说一说解决问题的方法，给有困难的\\学生以启发。}
\NL{ys}{w2}{796}{5297}{2、练习一的第4题，让学生自己独立完成。\\汇报解决问题的思路时，教师结合题目的具体\\内容，适当渗透思想教育。}
\NL{ys}{w21}{553}{5297}{[设计意图]：让学生在交流、实践中掌握知识\\。}
\NL{ys}{u4}{942}{5371}{四、课堂总结}
\NL{ys}{u41}{847}{5371}{通过今天这节课我们又学到了什么本领?你能\\把我们今天学会的知识解决我们生边的问题吗\\?}
\NL{ys}{u5}{942}{5431}{五、课堂作业}
\NL{ys}{t7}{1025}{5479}{教学反思:}

\CLs{yk}{L5}{t1,t2,t3,t4,t5,t6,t7}
\CLs{yk}{t2}{t21,t22}
\CLs{yk}{t3}{t31,t32}
\CLs{yk}{t4}{t41,t42}
\CLs{yk}{t42}{t421,t422}
\CLs{yk}{t422}{t4221}
\CLs{yk}{t5}{t51,t52,t53}
\CLs{yk}{t53}{t531,t532,t533}
\CLs{yk}{t6}{u1,u2,u3,u4,u5}
\CLs{yk}{u1}{u11,u12,u13}
\CLs{yk}{u13}{u131}
\CLs{yk}{u2}{v1,v2,v3,v4,v5,v6,v7}
\CLs{yk}{v3}{v31,v32,v33}
\CLs{yk}{v4}{v41,v42}
\CLs{yk}{v6}{v61}
\CLs{yk}{v7}{v71}
\CLs{yk}{u3}{w1,w2}
\CLs{yk}{w2}{w21}
\CLs{yk}{u4}{u41}

% ---------- watermarks
\foreach \yy in {515,1517,2519,3521,4523,5525}{
  \node[wm] at (1925,\yy) {{\wmcjk 树图} {\wmlat shutu.cn}};
  \node[wm] at (644,\yy) {{\wmcjk 树图} {\wmlat shutu.cn}};
}
\end{tikzpicture}
\end{document}
